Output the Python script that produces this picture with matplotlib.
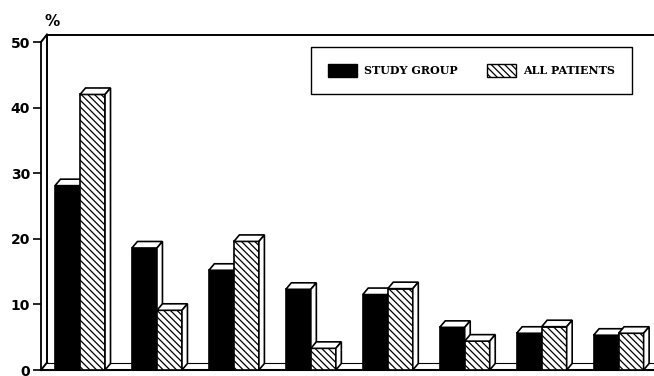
import numpy as np
import matplotlib
matplotlib.use('Agg')
from matplotlib import pyplot as plt
from matplotlib.patches import Polygon, Patch

# values (percent)
groups = np.arange(8)
study_group = [28.1, 18.6, 15.2, 12.3, 11.5, 6.5, 5.6, 5.3]
all_patients = [42.0, 9.1, 19.6, 3.3, 12.4, 4.4, 6.6, 5.6]
yticks = [0, 10, 20, 30, 40, 50]
series_names = ['STUDY GROUP', 'ALL PATIENTS']

plt.rcParams['hatch.linewidth'] = 0.9
HATCH = '\\' * 5

fig = plt.figure(figsize=(6.54, 3.76), dpi=100)
ax = fig.add_axes([41 / 654, 6 / 376, 613 / 654, 328 / 376])
xmin, xmax = -0.507, 7.46
ax.set_xlim(xmin, xmax)
ax.set_ylim(0, 50)

# pixels per data unit, used for the fake 3D depth
sx = 613 / (xmax - xmin)
sy = 328 / 50
bdx, bdy = 5.5 / sx, 6.5 / sy   # bar depth
wdx, wdy = 6 / sx, 7.5 / sy     # wall depth

width = 0.325


def bar3d(x0, h, z, **kw):
    bars = ax.bar(x0, h, width=width, align='edge', edgecolor='black',
                  linewidth=1.2, zorder=z, **kw)
    r = bars[0]
    x, w = r.get_x(), r.get_width()
    top = Polygon([(x, h), (x + bdx, h + bdy), (x + w + bdx, h + bdy), (x + w, h)],
                  closed=True, facecolor='white', edgecolor='black', lw=1.2,
                  zorder=z, clip_on=False)
    side = Polygon([(x + w, 0), (x + w, h), (x + w + bdx, h + bdy), (x + w + bdx, bdy)],
                   closed=True, facecolor='white', edgecolor='black', lw=1.2,
                   zorder=z, clip_on=False)
    ax.add_patch(top)
    ax.add_patch(side)


for i in groups:
    bar3d(i - width, study_group[i], 3 + 2 * i, color='black')
    bar3d(i, all_patients[i], 4 + 2 * i, facecolor='white', hatch=HATCH)

# back wall and floor
lk = dict(color='black', lw=1.4, clip_on=False, zorder=1)
ax.plot([xmin + wdx, xmin + wdx], [wdy, 50 + wdy], **lk)
ax.plot([xmin + wdx, xmax + 1], [50 + wdy, 50 + wdy], **lk)
ax.plot([xmin + wdx, xmax + 1], [wdy, wdy], color='black', lw=0.8, clip_on=False, zorder=1)
ax.plot([xmin, xmin + wdx], [0, wdy], **lk)
ax.plot([xmin, xmin + wdx], [50, 50 + wdy], **lk)

for s in ['top', 'right']:
    ax.spines[s].set_visible(False)
ax.spines['left'].set_linewidth(1.3)
ax.spines['bottom'].set_linewidth(1.5)
ax.set_xticks([])
ax.set_yticks(yticks)
ax.tick_params(axis='y', direction='out', length=6, width=1.2, pad=2,
               labelsize=10)
for t in ax.get_yticklabels():
    t.set_fontweight('bold')

fig.text(52 / 654, 1 - 22 / 376, '%', fontsize=11, fontweight='bold',
         ha='center', va='center')

handles = [Patch(facecolor='black', edgecolor='black'),
           Patch(facecolor='white', edgecolor='black', hatch=HATCH)]
leg = ax.legend(handles, series_names, ncol=2, loc='upper right',
                bbox_to_anchor=(632 / 654, 1 - 47 / 376),
                bbox_transform=fig.transFigure, borderaxespad=0,
                prop=dict(family='DejaVu Serif', weight='bold', size=8),
                handlelength=2.6, handleheight=1.5, handletextpad=0.7,
                columnspacing=2.6, borderpad=1.5, fancybox=False,
                edgecolor='black', framealpha=1)
leg.get_frame().set_linewidth(1.0)

fig.savefig('out.png', dpi=100)
